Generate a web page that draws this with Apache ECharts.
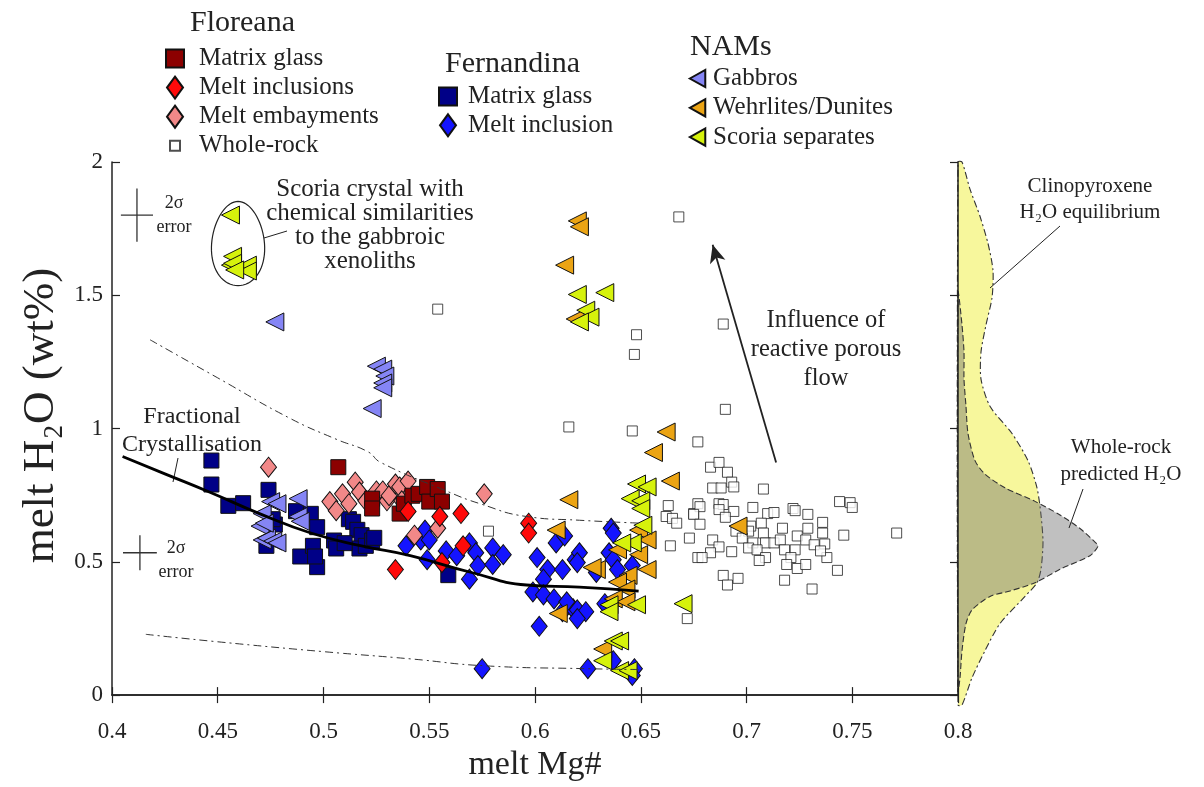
<!DOCTYPE html>
<html>
<head>
<meta charset="utf-8">
<script src="https://cdn.jsdelivr.net/npm/echarts@6/dist/echarts.min.js"></script>
<style>
  html, body { margin: 0; padding: 0; background: #fff; }
  #chart { width: 1204px; height: 787px; }
</style>
</head>
<body>
<div id="chart"></div>
<script>
// ---- data: [melt Mg#, melt H2O wt%] ----
const floreanaMatrixGlass = [[0.507,0.855],[0.523,0.737],[0.523,0.700],[0.536,0.681],[0.538,0.718],[0.542,0.748],[0.545,0.755],[0.549,0.781],[0.550,0.726],[0.554,0.773],[0.556,0.726]];
const floreanaMeltInclusions = [[0.534,0.471],[0.540,0.689],[0.555,0.670],[0.565,0.681],[0.556,0.497],[0.566,0.560],[0.597,0.645],[0.597,0.608]];
const floreanaEmbayments = [[0.474,0.855],[0.503,0.726],[0.506,0.692],[0.509,0.755],[0.512,0.718],[0.515,0.799],[0.517,0.762],[0.520,0.729],[0.525,0.766],[0.528,0.766],[0.530,0.729],[0.531,0.748],[0.534,0.792],[0.536,0.781],[0.537,0.729],[0.540,0.803],[0.543,0.600],[0.554,0.626],[0.576,0.755]];
const wholeRock = [[0.668,1.794],[0.554,1.448],[0.648,1.352],[0.647,1.278],[0.616,1.006],[0.646,0.991],[0.677,0.950],[0.689,1.392],[0.690,1.072],[0.578,0.615],[0.663,0.711],[0.662,0.670],[0.665,0.663],[0.667,0.645],[0.675,0.681],[0.677,0.718],[0.673,0.589],[0.664,0.560],[0.677,0.516],[0.672,0.287],[0.683,0.855],[0.687,0.873],[0.691,0.836],[0.684,0.777],[0.688,0.777],[0.693,0.799],[0.694,0.781],[0.708,0.773],[0.687,0.718],[0.689,0.715],[0.687,0.696],[0.694,0.689],[0.690,0.667],[0.678,0.707],[0.675,0.678],[0.678,0.641],[0.703,0.704],[0.710,0.681],[0.713,0.685],[0.702,0.634],[0.707,0.645],[0.701,0.615],[0.695,0.615],[0.698,0.589],[0.703,0.571],[0.708,0.608],[0.709,0.571],[0.713,0.571],[0.716,0.582],[0.717,0.626],[0.722,0.700],[0.723,0.692],[0.729,0.678],[0.736,0.648],[0.729,0.626],[0.736,0.608],[0.724,0.597],[0.728,0.582],[0.732,0.564],[0.737,0.567],[0.738,0.516],[0.735,0.541],[0.723,0.545],[0.718,0.545],[0.684,0.582],[0.687,0.556],[0.693,0.538],[0.683,0.534],[0.679,0.516],[0.701,0.552],[0.705,0.545],[0.709,0.516],[0.706,0.505],[0.721,0.516],[0.719,0.490],[0.724,0.475],[0.728,0.490],[0.744,0.726],[0.749,0.722],[0.750,0.704],[0.746,0.600],[0.771,0.608],[0.689,0.449],[0.691,0.413],[0.696,0.438],[0.718,0.431],[0.743,0.468],[0.731,0.398]];
const fernandinaMatrixGlass = [[0.447,0.880],[0.447,0.790],[0.455,0.710],[0.462,0.720],[0.474,0.770],[0.473,0.560],[0.477,0.640],[0.476,0.660],[0.487,0.690],[0.494,0.680],[0.497,0.630],[0.489,0.520],[0.495,0.560],[0.497,0.480],[0.496,0.520],[0.505,0.580],[0.506,0.550],[0.512,0.660],[0.514,0.650],[0.516,0.620],[0.518,0.600],[0.517,0.550],[0.520,0.560],[0.523,0.580],[0.524,0.590],[0.510,0.570],[0.559,0.450]];
const fernandinaMeltInclusion = [[0.539,0.560],[0.546,0.582],[0.548,0.619],[0.550,0.582],[0.549,0.508],[0.558,0.541],[0.563,0.523],[0.569,0.571],[0.572,0.534],[0.573,0.486],[0.569,0.435],[0.580,0.552],[0.580,0.490],[0.585,0.527],[0.601,0.516],[0.606,0.471],[0.613,0.471],[0.604,0.435],[0.599,0.387],[0.604,0.376],[0.609,0.361],[0.602,0.258],[0.610,0.571],[0.614,0.597],[0.619,0.508],[0.613,0.313],[0.618,0.324],[0.621,0.534],[0.620,0.497],[0.615,0.350],[0.620,0.320],[0.624,0.313],[0.620,0.287],[0.636,0.626],[0.637,0.608],[0.635,0.534],[0.637,0.508],[0.639,0.471],[0.629,0.460],[0.646,0.486],[0.633,0.343],[0.575,0.099],[0.625,0.099],[0.637,0.129],[0.647,0.099],[0.646,0.074]];
const gabbros = [[0.477,1.400],[0.525,1.234],[0.528,1.223],[0.529,1.197],[0.528,1.171],[0.528,1.153],[0.523,1.075],[0.470,0.634],[0.471,0.681],[0.475,0.726],[0.478,0.718],[0.471,0.582],[0.473,0.589],[0.476,0.578],[0.478,0.571],[0.488,0.737],[0.488,0.670],[0.472,0.645],[0.489,0.652]];
const wehrlitesDunites = [[0.620,1.779],[0.621,1.757],[0.614,1.613],[0.619,1.411],[0.662,0.987],[0.656,0.910],[0.664,0.803],[0.616,0.733],[0.610,0.619],[0.649,0.619],[0.639,0.545],[0.653,0.582],[0.653,0.471],[0.649,0.527],[0.629,0.471],[0.644,0.449],[0.639,0.424],[0.643,0.398],[0.637,0.361],[0.643,0.350],[0.627,0.479],[0.611,0.306],[0.632,0.173],[0.696,0.634]];
const scoriaSeparates = [[0.456,1.801],[0.457,1.646],[0.456,1.613],[0.464,1.613],[0.464,1.591],[0.457,1.620],[0.458,1.595],[0.620,1.503],[0.633,1.510],[0.624,1.444],[0.626,1.418],[0.621,1.400],[0.648,0.792],[0.653,0.781],[0.645,0.737],[0.650,0.729],[0.650,0.700],[0.651,0.637],[0.646,0.571],[0.641,0.571],[0.648,0.339],[0.635,0.339],[0.635,0.313],[0.670,0.343],[0.637,0.203],[0.640,0.203],[0.632,0.129],[0.640,0.092],[0.644,0.092]];

// model curves
const fractionalCrystallisation = [[0.405,0.895],[0.425,0.83],[0.446,0.762],[0.47,0.68],[0.494,0.608],[0.518,0.56],[0.541,0.523],[0.57,0.46],[0.596,0.413],[0.621,0.405],[0.649,0.39]];
const upperEnvelope = [[0.418,1.333],[0.45,1.19],[0.484,1.039],[0.506,0.96],[0.521,0.913],[0.527,0.873],[0.558,0.766],[0.574,0.718],[0.596,0.670],[0.621,0.656],[0.650,0.645]];
const lowerEnvelope = [[0.416,0.228],[0.45,0.2],[0.5,0.163],[0.541,0.136],[0.576,0.110],[0.625,0.099],[0.650,0.096]];

// reactive porous flow arrow: tail -> head
const flowArrow = [[0.714,0.873],[0.684,1.690]];
// 2 sigma error crosses: [x, y, halfX, halfY]
const errorCrosses = [[0.4118,1.801,0.0076,0.10],[0.4132,0.534,0.008,0.066]];
// outline around the scoria crystal: [x, y, radiusX, radiusY]
const scoriaOutline = [[0.4596,1.694,0.0125,0.158]];

// side panel densities: [relative density, melt H2O]
const cpxDensity = [[0,2.0],[0.02,2.0],[0.06,1.9],[0.11,1.8],[0.15,1.7],[0.175,1.6],[0.17,1.5],[0.14,1.4],[0.115,1.3],[0.115,1.2],[0.16,1.1],[0.27,1.0],[0.35,0.9],[0.395,0.8],[0.415,0.7],[0.425,0.6],[0.415,0.5],[0.395,0.45],[0.335,0.4],[0.21,0.3],[0.135,0.2],[0.07,0.1],[0.02,0.0],[0,0]];
const wholeRockDensity = [[0,1.52],[0.02,1.4],[0.03,1.3],[0.03,1.2],[0.04,1.1],[0.05,1.0],[0.085,0.9],[0.135,0.85],[0.235,0.8],[0.385,0.75],[0.51,0.7],[0.61,0.65],[0.685,0.6],[0.70,0.585],[0.66,0.55],[0.51,0.5],[0.385,0.45],[0.26,0.42],[0.16,0.4],[0.07,0.35],[0.04,0.3],[0.02,0.2],[0.01,0.1],[0,0.05]];

const xTicks = [0.4, 0.8, 0.05];
const yTicks = [0, 2, 0.5];

const FONT = 'Liberation Serif';
const INK = '#222';

const chart = echarts.init(document.getElementById('chart'));

function scatter(name, data, symbol, size, color, extra) {
  return Object.assign({
    name: name,
    type: 'scatter',
    data: data,
    symbol: symbol,
    symbolSize: size,
    itemStyle: { color: color, borderColor: '#111', borderWidth: 1, opacity: 1 },
    emphasis: { disabled: true },
    silent: true
  }, extra || {});
}

function densitySeries(data, fill, dash) {
  return {
    type: 'custom',
    xAxisIndex: 2,
    yAxisIndex: 2,
    silent: true,
    z: -1,
    data: [0],
    renderItem: function (params, api) {
      return {
        type: 'polygon',
        shape: { points: data.map(p => api.coord(p)), smooth: 0.25 },
        style: { fill: fill, stroke: '#333', lineWidth: 1.1, lineDash: dash }
      };
    }
  };
}

const tri = { symbolRotate: 90 };
// legend icons drawn in a 22x22 box so they keep their real size
const squareIcon = 'path://M0,0L0,0M22,22L22,22M2,2L20,2L20,20L2,20Z';
const diamondIcon = 'path://M0,0L0,0M22,22L22,22M11,0L19,11L11,22L3,11Z';
const smallSquareIcon = 'path://M0,0L0,0M22,22L22,22M6,6L16,6L16,16L6,16Z';
const triangleIcon = 'path://M0,0L0,0M22,22L22,22M2,11L19,1.5L19,20.5Z';

const legendText = { fontFamily: FONT, fontSize: 25, color: INK, lineHeight: 22 };
const stripName = n => n.split('|')[1];
const legendBase = { orient: 'vertical', padding: 0, itemHeight: 22, textStyle: legendText,
  formatter: stripName, selectedMode: false };

const option = {
  backgroundColor: '#fff',
  animation: false,
  legend: [
    Object.assign({}, legendBase, {
      left: 163, top: 46, itemWidth: 38, itemGap: 4.1,
      data: [
        { name: 'F|Matrix glass', icon: squareIcon },
        { name: 'F|Melt inclusions', icon: diamondIcon },
        { name: 'F|Melt embayments', icon: diamondIcon },
        { name: 'F|Whole-rock', icon: smallSquareIcon }
      ]
    }),
    Object.assign({}, legendBase, {
      left: 436, top: 84, itemWidth: 30, itemGap: 3.8,
      data: [
        { name: 'N|Matrix glass', icon: squareIcon },
        { name: 'N|Melt inclusion', icon: diamondIcon }
      ]
    }),
    Object.assign({}, legendBase, {
      left: 687, top: 66, itemWidth: 20, itemGap: 4.3,
      data: [
        { name: 'M|Gabbros', icon: triangleIcon },
        { name: 'M|Wehrlites/Dunites', icon: triangleIcon },
        { name: 'M|Scoria separates', icon: triangleIcon }
      ]
    })
  ],
  grid: [
    { left: 112, right: 246, top: 162, bottom: 82 },
    { left: 958, width: 200, top: 162, bottom: 82 }
  ],
  xAxis: [
    {
      type: 'value', gridIndex: 0, min: xTicks[0], max: xTicks[1], interval: xTicks[2],
      position: 'bottom',
      name: 'melt Mg#', nameLocation: 'middle', nameGap: 52,
      nameTextStyle: { fontFamily: FONT, fontSize: 34, color: INK },
      axisLine: { lineStyle: { color: INK, width: 1.5 } },
      axisTick: { inside: true, length: 8, lineStyle: { color: INK, width: 1.2 } },
      axisLabel: { fontFamily: FONT, fontSize: 23, color: INK, margin: 25,
        formatter: v => String(+v.toFixed(2)) },
      splitLine: { show: false }
    },
    {
      type: 'value', gridIndex: 0, min: xTicks[0], max: xTicks[1], interval: xTicks[2],
      position: 'top',
      axisLine: { lineStyle: { color: INK, width: 1.5 } },
      axisTick: { inside: true, length: 8, lineStyle: { color: INK, width: 1.2 } },
      axisLabel: { show: false }, splitLine: { show: false }
    },
    { type: 'value', gridIndex: 1, min: 0, max: 1, show: false }
  ],
  yAxis: [
    {
      type: 'value', gridIndex: 0, min: yTicks[0], max: yTicks[1], interval: yTicks[2],
      position: 'left',
      name: 'melt H₂O (wt%)', nameLocation: 'middle', nameGap: 37,
      nameTextStyle: { fontFamily: FONT, fontSize: 45, color: INK, padding: [0, 0, 0, 26] },
      axisLine: { lineStyle: { color: INK, width: 1.5 } },
      axisTick: { inside: true, length: 8, lineStyle: { color: INK, width: 1.2 } },
      axisLabel: { fontFamily: FONT, fontSize: 23, color: INK, margin: 9 },
      splitLine: { show: false }
    },
    {
      type: 'value', gridIndex: 0, min: yTicks[0], max: yTicks[1], interval: yTicks[2],
      position: 'right',
      axisLine: { lineStyle: { color: INK, width: 1.5 } },
      axisTick: { inside: true, length: 8, lineStyle: { color: INK, width: 1.2 } },
      axisLabel: { show: false }, splitLine: { show: false }
    },
    { type: 'value', gridIndex: 1, min: 0, max: 2, show: false }
  ],
  series: [
    densitySeries(cpxDensity, '#f7f79c', [7, 3, 2, 3]),
    densitySeries(wholeRockDensity, 'rgba(105,105,105,0.42)', [6, 3]),
    {
      type: 'line', data: upperEnvelope, smooth: true, symbol: 'none', silent: true,
      lineStyle: { color: '#333', width: 1, type: [8, 4, 2, 4] }
    },
    {
      type: 'line', data: lowerEnvelope, smooth: true, symbol: 'none', silent: true,
      lineStyle: { color: '#333', width: 1, type: [8, 4, 2, 4] }
    },
    scatter('F|Whole-rock', wholeRock, 'rect', 10, '#ffffff', { itemStyle: { color: '#fff', borderColor: '#222', borderWidth: 1 } }),
    scatter('N|Matrix glass', fernandinaMatrixGlass, 'rect', 15, '#000087'),
    scatter('N|Melt inclusion', fernandinaMeltInclusion, 'diamond', [16, 20], '#1414ff'),
    scatter('F|Melt embayments', floreanaEmbayments, 'diamond', [16, 20], '#f28888'),
    scatter('F|Matrix glass', floreanaMatrixGlass, 'rect', 15, '#8c0000'),
    scatter('F|Melt inclusions', floreanaMeltInclusions, 'diamond', [16, 20], '#ff0a0a'),
    scatter('M|Gabbros', gabbros, 'triangle', 18, '#8585f5', tri),
    scatter('M|Wehrlites/Dunites', wehrlitesDunites, 'triangle', 18, '#eba414', tri),
    scatter('M|Scoria separates', scoriaSeparates, 'triangle', 18, '#d6f20c', tri),
    {
      type: 'line', data: fractionalCrystallisation, smooth: true, symbol: 'none', silent: true,
      lineStyle: { color: '#000', width: 2.8 },
      markLine: {
        silent: true, symbol: ['none', 'arrow'], symbolSize: [12, 18],
        label: { show: false },
        lineStyle: { color: INK, width: 1.8, type: 'solid' },
        data: [[{ coord: flowArrow[0] }, { coord: flowArrow[1] }]]
      }
    },
    {
      type: 'custom', silent: true, data: errorCrosses,
      renderItem: function (params, api) {
        const x = api.value(0), y = api.value(1), dx = api.value(2), dy = api.value(3);
        const s = { stroke: '#333', lineWidth: 1.3 };
        const a = api.coord([x - dx, y]), b = api.coord([x + dx, y]);
        const c = api.coord([x, y - dy]), d = api.coord([x, y + dy]);
        return { type: 'group', children: [
          { type: 'line', shape: { x1: a[0], y1: a[1], x2: b[0], y2: b[1] }, style: s },
          { type: 'line', shape: { x1: c[0], y1: c[1], x2: d[0], y2: d[1] }, style: s }
        ] };
      }
    },
    {
      type: 'custom', silent: true, data: scoriaOutline, z: 1,
      renderItem: function (params, api) {
        const c = api.coord([api.value(0), api.value(1)]);
        const r = api.size([api.value(2), api.value(3)]);
        const pts = [];
        for (let i = 0; i < 72; i++) {
          const t = i / 72 * Math.PI * 2;
          const sy = Math.sin(t);
          const wx = r[0] * (1 + 0.12 * sy);
          pts.push([c[0] + wx * Math.cos(t), c[1] + r[1] * sy]);
        }
        return { type: 'polygon', shape: { points: pts }, style: { fill: 'none', stroke: '#222', lineWidth: 1.2 } };
      }
    }
  ],
  graphic: [
    { type: 'text', left: 190, top: 8, style: { text: 'Floreana', font: '30px "Liberation Serif"', fill: INK } },
    { type: 'text', left: 445, top: 49, style: { text: 'Fernandina', font: '30px "Liberation Serif"', fill: INK } },
    { type: 'text', left: 690, top: 32, style: { text: 'NAMs', font: '30px "Liberation Serif"', fill: INK } },

    { type: 'text', x: 370, y: 177, style: { text: 'Scoria crystal with\nchemical similarities\nto the gabbroic\nxenoliths', font: '25px "Liberation Serif"', fill: INK, align: 'center', lineHeight: 24.2 } },
    { type: 'line', shape: { x1: 264, y1: 238, x2: 287, y2: 231 }, style: { stroke: '#222', lineWidth: 1 } },

    { type: 'text', x: 192, y: 403, style: { text: 'Fractional\nCrystallisation', font: '24px "Liberation Serif"', fill: INK, align: 'center', lineHeight: 28 } },
    { type: 'line', shape: { x1: 178, y1: 458, x2: 173, y2: 482 }, style: { stroke: '#222', lineWidth: 1 } },

    { type: 'text', x: 826, y: 306, style: { text: 'Influence of\nreactive porous\nflow', font: '24.5px "Liberation Serif"', fill: INK, align: 'center', lineHeight: 29 } },

    { type: 'text', x: 174, y: 191, style: { text: '2σ\nerror', font: '18px "Liberation Serif"', fill: INK, align: 'center', lineHeight: 24 } },
    { type: 'text', x: 176, y: 536, style: { text: '2σ\nerror', font: '18px "Liberation Serif"', fill: INK, align: 'center', lineHeight: 24 } },

    { type: 'text', x: 1090, y: 173, style: { text: 'Clinopyroxene\nH₂O equilibrium', font: '21px "Liberation Serif"', fill: INK, align: 'center', lineHeight: 26 } },
    { type: 'line', shape: { x1: 1060, y1: 226, x2: 990, y2: 288 }, style: { stroke: '#222', lineWidth: 1 } },

    { type: 'text', x: 1121, y: 434, style: { text: 'Whole-rock\npredicted H₂O', font: '21px "Liberation Serif"', fill: INK, align: 'center', lineHeight: 27 } },
    { type: 'line', shape: { x1: 1083, y1: 489, x2: 1069, y2: 528 }, style: { stroke: '#222', lineWidth: 1 } }
  ]
};

chart.setOption(option);
</script>
</body>
</html>
